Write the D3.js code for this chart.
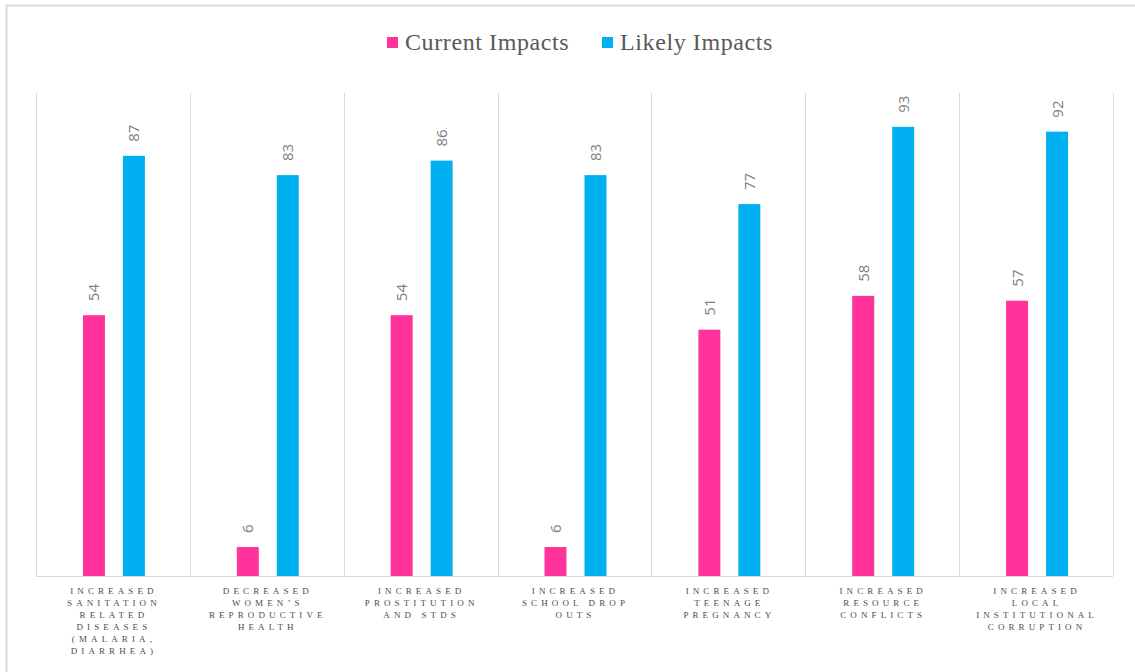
<!DOCTYPE html>
<html>
<head>
<meta charset="utf-8">
<script src="https://cdn.jsdelivr.net/npm/d3@7"></script>
<style>
  body { margin: 0; background: #fff; }
  .cat-label { font-family: "Liberation Serif", "DejaVu Serif", serif; font-size: 9px; letter-spacing: 4.1px; fill: #4d4d4d; }
  .val-label { font-family: "Open Sans", "DejaVu Sans", sans-serif; font-size: 15px; fill: #808080; }
  .legend-text { font-family: "Liberation Serif", "DejaVu Serif", serif; font-size: 24px; letter-spacing: 0.6px; fill: #595959; }
</style>
</head>
<body>
<div class="wrap-chart"></div>
<script>
var
  width = 1135,
  height = 672,
  plot = { left: 36, right: 1113, top: 93, bottom: 576 };

// data
var categories = [
  ["INCREASED", "SANITATION", "RELATED", "DISEASES", "(MALARIA,", "DIARRHEA)"],
  ["DECREASED", "WOMEN\u2019S", "REPRODUCTIVE", "HEALTH"],
  ["INCREASED", "PROSTITUTION", "AND STDS"],
  ["INCREASED", "SCHOOL  DROP", "OUTS"],
  ["INCREASED", "TEENAGE", "PREGNANCY"],
  ["INCREASED", "RESOURCE", "CONFLICTS"],
  ["INCREASED", "LOCAL", "INSTITUTIONAL", "CORRUPTION"]
];
var seriesNames = ["Current Impacts", "Likely Impacts"];
var seriesColors = ["#FF3399", "#00B0F0"];
var currentImpacts = [54, 6, 54, 6, 51, 58, 57];
var likelyImpacts = [87, 83, 86, 83, 77, 93, 92];

var data = categories.map(function (c, i) {
  return { idx: i, lines: c, values: [currentImpacts[i], likelyImpacts[i]] };
});

var svg = d3.select(".wrap-chart")
  .append("svg")
  .attr("width", width)
  .attr("height", height);

// outer chart frame (only left/top visible in the crop)
svg.append("rect")
  .attr("x", 6.5).attr("y", 5.5)
  .attr("width", width + 20).attr("height", height + 20)
  .attr("fill", "none")
  .attr("stroke", "#d9d9d9")
  .attr("stroke-width", 2);

var x = d3.scaleBand()
  .domain(d3.range(categories.length))
  .range([plot.left, plot.right]);

var xInner = d3.scaleBand()
  .domain(d3.range(seriesNames.length))
  .range([1, x.bandwidth() + 1])
  .paddingInner(0.45)
  .paddingOuter(1.15);

var y = d3.scaleLinear()
  .domain([0, 100])
  .range([plot.bottom, plot.top]);

// vertical separators
svg.append("g")
  .selectAll("line")
  .data(d3.range(categories.length + 1))
  .enter().append("line")
  .attr("x1", function (d) { return Math.round(plot.left + d * x.step()) + 0.5; })
  .attr("x2", function (d) { return Math.round(plot.left + d * x.step()) + 0.5; })
  .attr("y1", plot.top)
  .attr("y2", plot.bottom)
  .attr("stroke", "#d9d9d9")
  .attr("stroke-width", 1);

// baseline
svg.append("line")
  .attr("x1", plot.left).attr("x2", plot.right)
  .attr("y1", plot.bottom + 0.5).attr("y2", plot.bottom + 0.5)
  .attr("stroke", "#d9d9d9")
  .attr("stroke-width", 1);

var groups = svg.selectAll(".cat")
  .data(data).enter()
  .append("g")
  .attr("class", "cat")
  .attr("transform", function (d) { return "translate(" + x(d.idx) + ",0)"; });

groups.selectAll("rect")
  .data(function (d) { return d.values.map(function (v, s) { return { s: s, v: v }; }); })
  .enter().append("rect")
  .attr("x", function (d) { return xInner(d.s); })
  .attr("y", function (d) { return y(d.v); })
  .attr("width", xInner.bandwidth())
  .attr("height", function (d) { return y(0) - y(d.v); })
  .attr("fill", function (d) { return seriesColors[d.s]; });

groups.selectAll(".val-label")
  .data(function (d) { return d.values.map(function (v, s) { return { s: s, v: v }; }); })
  .enter().append("text")
  .attr("class", "val-label")
  .attr("transform", function (d) {
    var cx = xInner(d.s) + xInner.bandwidth() / 2 + 5.5;
    return "translate(" + cx + "," + (y(d.v) - 14) + ") rotate(-90)";
  })
  .attr("text-anchor", "start")
  .text(function (d) { return d.v; });

// category labels
groups.append("text")
  .attr("class", "cat-label")
  .attr("text-anchor", "middle")
  .selectAll("tspan")
  .data(function (d) { return d.lines; })
  .enter().append("tspan")
  .attr("x", x.bandwidth() / 2 + 1)
  .attr("y", function (d, i) { return plot.bottom + 18 + i * 12; })
  .text(function (d) { return d; });

// legend
var legend = svg.append("g").attr("class", "legend");
var legendX = [387, 602];
seriesNames.forEach(function (name, i) {
  var g = legend.append("g").attr("transform", "translate(" + legendX[i] + ",37)");
  g.append("rect").attr("width", 11).attr("height", 11).attr("fill", seriesColors[i]);
  g.append("text").attr("class", "legend-text")
    .attr("x", 18).attr("y", 13)
    .text(name);
});
</script>
</body>
</html>
